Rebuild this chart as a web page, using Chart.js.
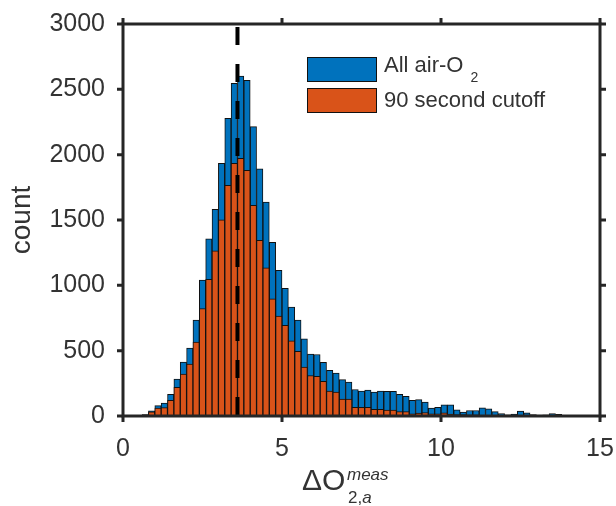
<!DOCTYPE html>
<html>
<head>
<meta charset="utf-8">
<script src="https://cdn.jsdelivr.net/npm/chart.js@4.4.0/dist/chart.umd.min.js"></script>
<style>
  html, body { margin: 0; padding: 0; background: #fff; }
  #wrap {
    position: relative; width: 616px; height: 506px;
    font-family: "Liberation Sans", Arial, Helvetica, sans-serif; color: #333;
  }
  #wrap canvas { position: absolute; left: 0; top: 0; }
  .lg-box { position: absolute; width: 70px; height: 25px; box-sizing: border-box; border: 1px solid #111; }
  .lg-text { position: absolute; font-size: 22px; line-height: 25px; white-space: nowrap; }
  .lg-text .sub { position: relative; top: 10px; font-size: 14px; margin-left: 7px; }
  .xl { position: absolute; line-height: 1; white-space: nowrap; }
</style>
</head>
<body>
<div id="wrap">
  <canvas id="chartHist" width="616" height="506"></canvas>
  <div id="legend"></div>
  <span class="xl" style="left:302px;top:465px;font-size:30px">ΔO</span>
  <span class="xl" style="left:347px;top:466px;font-size:17px;font-style:italic">meas</span>
  <span class="xl" style="left:348px;top:489px;font-size:17px">2,<i>a</i></span>
</div>
<script>
// histogram bins: 0 to 15, width 0.2
const binStart = 0;
const binWidth = 0.2;

// counts per bin
const allAirCounts = [
  0, 2, 5, 10, 40, 79, 99, 165, 283, 413,
  520, 734, 1040, 1355, 1582, 1934, 2278, 2546, 2602, 2569,
  2214, 1891, 1638, 1330, 1115, 978, 833, 734, 591, 474,
  471, 410, 349, 329, 278, 260, 203, 191, 199, 183,
  191, 188, 188, 166, 151, 119, 125, 107, 60, 66,
  85, 85, 48, 30, 42, 42, 63, 54, 33, 19,
  9, 15, 38, 25, 10, 7, 8, 18, 12, 5,
  3, 2, 2, 1, 1
];
const cutoffCounts = [
  0, 1, 3, 8, 32, 60, 64, 120, 219, 321,
  397, 566, 823, 1045, 1264, 1501, 1766, 1934, 1972, 1881,
  1613, 1345, 1134, 897, 765, 693, 576, 494, 374, 310,
  303, 265, 191, 183, 130, 130, 66, 66, 66, 51,
  51, 45, 45, 33, 33, 16, 22, 27, 16, 17,
  25, 14, 10, 10, 8, 9, 5, 5, 3, 3,
  1, 2, 3, 2, 1, 1, 1, 1, 1, 0,
  0, 0, 0, 0, 0
];
const seriesLabels = ["All air-O", "90 second cutoff"];
const seriesSubs = ["2", ""];
const seriesColors = ["#0072BD", "#D95319"];

// dashed marker line
const markerX = 3.6;

const xTicks = [0, 5, 10, 15];
const yTicks = [0, 500, 1000, 1500, 2000, 2500, 3000];

const axisColor = "#262626";
const textColor = "#333";
const fontFamily = '"Liberation Sans", Arial, Helvetica, sans-serif';

const toPoints = counts => counts.map((c, i) => ({ x: binStart + binWidth * (i + 0.5), y: c }));

// box around the axes with outward ticks on all four sides
const frameBox = {
  id: "frameBox",
  afterDatasetsDraw(chart) {
    const { ctx, chartArea: a, scales: { x, y } } = chart;
    const len = 6;
    ctx.save();
    ctx.strokeStyle = axisColor;
    ctx.lineWidth = 3;
    ctx.strokeRect(a.left, a.top, a.right - a.left, a.bottom - a.top);
    ctx.beginPath();
    xTicks.forEach(v => {
      const px = x.getPixelForValue(v);
      ctx.moveTo(px, a.bottom); ctx.lineTo(px, a.bottom + len);
      ctx.moveTo(px, a.top); ctx.lineTo(px, a.top - len);
    });
    yTicks.forEach(v => {
      const py = y.getPixelForValue(v);
      ctx.moveTo(a.left, py); ctx.lineTo(a.left - len, py);
      ctx.moveTo(a.right, py); ctx.lineTo(a.right + len, py);
    });
    ctx.stroke();
    ctx.restore();
  }
};

const chartHist = new Chart(document.getElementById("chartHist"), {
  type: "bar",
  data: {
    datasets: [
      {
        label: seriesLabels[0],
        data: toPoints(allAirCounts),
        backgroundColor: seriesColors[0],
        borderColor: "#111",
        borderWidth: 1,
        order: 2,
      },
      {
        label: seriesLabels[1],
        data: toPoints(cutoffCounts),
        backgroundColor: seriesColors[1],
        borderColor: "#111",
        borderWidth: 1,
        order: 1,
      },
      {
        type: "line",
        label: "marker",
        data: [{ x: markerX, y: 3000 }, { x: markerX, y: 0 }],
        borderColor: "#000",
        borderWidth: 4,
        borderDash: [18, 19],
        borderDashOffset: -3,
        pointRadius: 0,
        order: 0,
      }
    ]
  },
  options: {
    responsive: false,
    animation: false,
    devicePixelRatio: 1,
    grouped: false,
    barPercentage: 1,
    categoryPercentage: 1,
    layout: { padding: { left: 0, top: 24, right: 16, bottom: 0 } },
    plugins: { legend: { display: false }, tooltip: { enabled: false } },
    scales: {
      x: {
        type: "linear",
        min: 0,
        max: 15,
        offset: false,
        afterBuildTicks: scale => { scale.ticks = xTicks.map(v => ({ value: v })); },
        afterFit: scale => {
          scale.height = 90;
          scale.paddingLeft = 0;
          scale.paddingRight = 0;
        },
        grid: { display: false, drawTicks: false, offset: false },
        border: { display: false },
        ticks: { padding: 18, color: textColor, font: { family: fontFamily, size: 25 }, callback: v => String(v) },
      },
      y: {
        min: 0,
        max: 3000,
        afterBuildTicks: scale => { scale.ticks = yTicks.map(v => ({ value: v })); },
        afterFit: scale => {
          scale.width = 123;
          scale.paddingTop = 0;
          scale.paddingBottom = 0;
        },
        grid: { display: false, drawTicks: false },
        border: { display: false },
        ticks: { padding: 18, color: textColor, font: { family: fontFamily, size: 25 }, callback: v => String(v) },
        title: {
          display: true,
          text: "count",
          color: textColor,
          padding: { top: 5, bottom: 0 },
          font: { family: fontFamily, size: 28, lineHeight: 1.2 },
        },
      }
    }
  },
  plugins: [frameBox]
});

// html legend built from the bar datasets
const legend = document.getElementById("legend");
chartHist.data.datasets.slice(0, 2).forEach((ds, i) => {
  const box = document.createElement("div");
  box.className = "lg-box";
  box.style.left = "307px";
  box.style.top = (57 + 31 * i) + "px";
  box.style.background = ds.backgroundColor;
  legend.appendChild(box);

  const txt = document.createElement("div");
  txt.className = "lg-text";
  txt.style.left = "384px";
  txt.style.top = (52 + 35 * i) + "px";
  txt.textContent = ds.label;
  if (seriesSubs[i]) {
    const sub = document.createElement("span");
    sub.className = "sub";
    sub.textContent = seriesSubs[i];
    txt.appendChild(sub);
  }
  legend.appendChild(txt);
});
</script>
</body>
</html>
